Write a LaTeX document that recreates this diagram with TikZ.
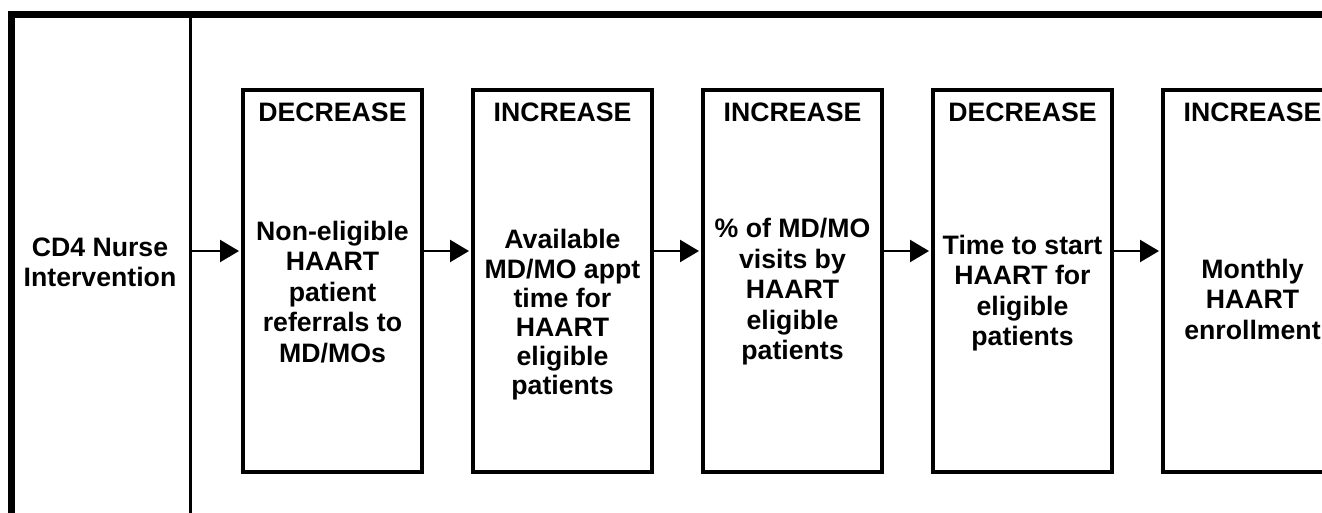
\documentclass[tikz,border=0pt]{standalone}
\usepackage{fontspec}
\setmainfont{Liberation Sans}
\usetikzlibrary{arrows.meta}

\tikzset{
  box/.style={draw,line width=3pt,minimum width=134.25pt,minimum height=286.5pt,inner sep=0pt,anchor=north west},
  head/.style={font=\fontsize{20}{25.9}\selectfont\bfseries,anchor=base,inner sep=0pt},
  txt/.style={font=\fontsize{20}{22.9}\selectfont\bfseries,align=center,inner sep=0pt},
  arr/.style={line width=1.8pt,shorten >=1.5pt,-{Triangle[length=14.25pt,width=16.5pt]}}
}

\begin{document}
\begin{tikzpicture}[x=0.75pt,y=-0.75pt]
	\useasboundingbox (0,0) rectangle (1322,512);
	\clip (0,0) rectangle (1322,512);
	\draw[line width=5.25pt] (11.5,530) -- (11.5,14.5) -- (1340,14.5);
	\draw[line width=2.25pt] (190.5,14.5) -- (190.5,530);
	\node[txt] (cd4) at (100,262.5) {CD4 Nurse\\Intervention};
	\coordinate (d) at (190.5,251);
	\foreach \i/\x in {1/241,2/471,3/701,4/931,5/1161}
		\node[box] (b\i) at (\x,88) {};
	\foreach \i/\w in {1/DECREASE,2/INCREASE,3/INCREASE,4/DECREASE,5/INCREASE}
		\node[head] (h\i) at ([yshift=-24.75pt]b\i.north) {\w};
	\foreach \i/\s/\bs/\tx in {1/-8.25pt/22.9/{Non-eligible\\HAART\\patient\\referrals to\\MD/MOs},
			2/-25.5pt/21.9/{Available\\MD/MO appt\\time for\\HAART\\eligible\\patients},
			3/-8.25pt/22.9/{\% of MD/MO\\visits by\\HAART\\eligible\\patients},
			4/-9pt/22.9/{Time to start\\HAART for\\eligible\\patients},
			5/-13.5pt/22.9/{Monthly\\HAART\\enrollment}}
		\node[txt,font=\fontsize{20}{\bs}\selectfont\bfseries] (t\i) at ([yshift=\s]b\i.center) {\tx};
	\draw[arr] (d) -- (b1.west |- d);
	\foreach \i/\j in {1/2,2/3,3/4,4/5}
		\draw[arr] (b\i.east |- d) -- (b\j.west |- d);
\end{tikzpicture}
\end{document}
